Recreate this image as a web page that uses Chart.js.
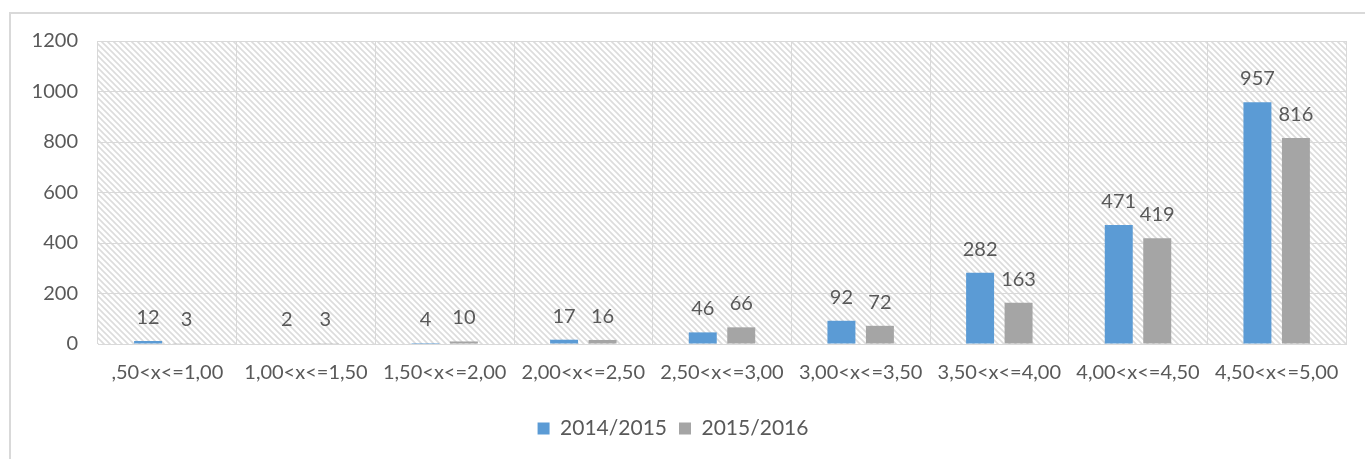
<!DOCTYPE html>
<html>
<head>
<meta charset="utf-8">
<script src="https://cdn.jsdelivr.net/npm/chart.js@4.4.1/dist/chart.umd.min.js"></script>
<style>
  html, body { margin: 0; padding: 0; background: #fff; }
  #wrap { position: relative; width: 1365px; height: 459px; }
</style>
</head>
<body>
<div id="wrap"><canvas id="grafico"></canvas></div>
<script>
// datos
const categorias = [",50<x<=1,00", "1,00<x<=1,50", "1,50<x<=2,00", "2,00<x<=2,50", "2,50<x<=3,00",
                    "3,00<x<=3,50", "3,50<x<=4,00", "4,00<x<=4,50", "4,50<x<=5,00"];
const serie2014 = [12, 2, 4, 17, 46, 92, 282, 471, 957];
const serie2015 = [3, 3, 10, 16, 66, 72, 163, 419, 816];
const nombresSeries = ["2014/2015", "2015/2016"];
const ticksY = [0, 200, 400, 600, 800, 1000, 1200];

const FUENTE = "Lato, 'Liberation Sans', sans-serif";
const GRIS_TEXTO = "#595959";
const GRIS_REJILLA = "#d9d9d9";

// patrón rayado del fondo
function crearRayado() {
    const c = document.createElement("canvas");
    c.width = 6; c.height = 6;
    const g = c.getContext("2d");
    g.fillStyle = "#fff";
    g.fillRect(0, 0, 6, 6);
    g.strokeStyle = "#dcdcdc";
    g.lineWidth = 1.6;
    g.beginPath();
    g.moveTo(-1, -1); g.lineTo(7, 7);
    g.moveTo(-1, 5); g.lineTo(1, 7);
    g.moveTo(5, -1); g.lineTo(7, 1);
    g.stroke();
    return g.createPattern(c, "repeat");
}

const fondoPlugin = {
    id: "fondo",
    beforeDraw(chart) {
        const ctx = chart.ctx;
        const a = chart.chartArea;
        ctx.save();
        // marco exterior (solo arriba e izquierda visibles)
        ctx.strokeStyle = GRIS_REJILLA;
        ctx.lineWidth = 2;
        ctx.beginPath();
        ctx.moveTo(10, 459);
        ctx.lineTo(10, 13);
        ctx.lineTo(1365, 13);
        ctx.stroke();
        ctx.fillStyle = crearRayado();
        ctx.fillRect(a.left, a.top, a.right - a.left, a.bottom - a.top);
        ctx.restore();
    }
};

const etiquetasPlugin = {
    id: "etiquetas",
    afterDatasetsDraw(chart) {
        const ctx = chart.ctx;
        ctx.save();
        ctx.font = "20px " + FUENTE;
        ctx.fillStyle = GRIS_TEXTO;
        ctx.textAlign = "center";
        ctx.textBaseline = "alphabetic";
        chart.data.datasets.forEach((ds, i) => {
            chart.getDatasetMeta(i).data.forEach((bar, j) => {
                ctx.fillText(String(ds.data[j]), bar.x, bar.y - 17);
            });
        });
        ctx.restore();
    }
};

new Chart(document.getElementById("grafico"), {
    type: "bar",
    data: {
        labels: categorias,
        datasets: [
            { label: nombresSeries[0], data: serie2014, backgroundColor: "#5b9bd5" },
            { label: nombresSeries[1], data: serie2015, backgroundColor: "#a5a5a5" }
        ]
    },
    options: {
        responsive: true,
        maintainAspectRatio: false,
        animation: false,
        events: [],
        layout: { padding: { left: 0, top: 41, right: 19, bottom: 10 } },
        datasets: { bar: { categoryPercentage: 0.555, barPercentage: 0.727 } },
        scales: {
            x: {
                grid: { color: GRIS_REJILLA, lineWidth: 1, drawTicks: false },
                border: { color: GRIS_REJILLA },
                ticks: { color: GRIS_TEXTO, font: { family: FUENTE, size: 20 }, padding: 17, maxRotation: 0, autoSkip: false },
                afterFit(s) { s.height = 62; }
            },
            y: {
                min: 0, max: 1200,
                afterBuildTicks(s) { s.ticks = ticksY.map(v => ({ value: v })); },
                grid: { color: GRIS_REJILLA, lineWidth: 1, drawTicks: false },
                border: { display: false },
                ticks: {
                    color: GRIS_TEXTO, font: { family: FUENTE, size: 20 }, padding: 20,
                    callback: v => String(v)
                },
                afterFit(s) { s.width = 98; }
            }
        },
        plugins: {
            tooltip: { enabled: false },
            legend: {
                position: "bottom",
                labels: {
                    color: GRIS_TEXTO,
                    font: { family: FUENTE, size: 21 },
                    boxWidth: 12, boxHeight: 12,
                    padding: 12
                }
            }
        }
    },
    plugins: [fondoPlugin, etiquetasPlugin]
});
</script>
</body>
</html>
